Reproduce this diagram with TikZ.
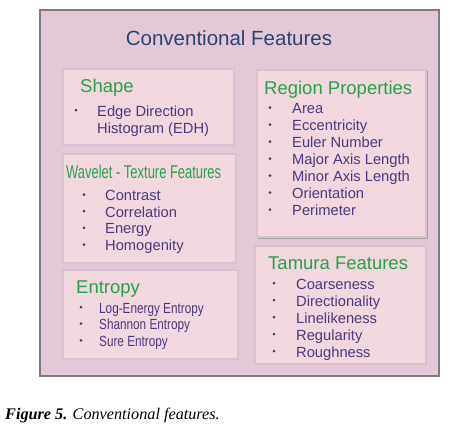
\documentclass[tikz,border=0pt]{standalone}
\usepackage{fontspec}
\usepackage{graphicx}
\setmainfont{Liberation Serif}
\newfontfamily\arialf{Liberation Sans}
\definecolor{outerfill}{HTML}{E3C8D8}
\definecolor{outerline}{HTML}{7E7A7E}
\definecolor{innerfill}{HTML}{F0D8DE}
\definecolor{innerline}{HTML}{DDC0CE}
\definecolor{titleblue}{HTML}{2B4470}
\definecolor{headgreen}{HTML}{2AA04F}
\definecolor{itemtext}{HTML}{4A3A80}
\tikzset{
  outerbox/.style={fill=outerfill,draw=outerline,line width=1.4pt},
  innerbox/.style={fill=innerfill,draw=innerline,line width=1.5pt},
  head/.style={anchor=base west,inner sep=0pt,text=headgreen,font=\arialf\fontsize{18.5}{20}\selectfont},
  item/.style={anchor=base west,inner sep=0pt,text=itemtext,font=\arialf\fontsize{14.7}{17}\selectfont},
  bul/.style={circle,fill=itemtext,inner sep=0pt,minimum size=3pt},
}
\begin{document}
\begin{tikzpicture}[x=1pt,y=-1pt]
\useasboundingbox (0,0) rectangle (453,429);
% outer box
\path[outerbox] (40,10) rectangle (439,376);
\node[anchor=base,inner sep=0pt,text=titleblue,font=\arialf\fontsize{20.5}{22}\selectfont] (title) at (229,45) {Conventional Features};
% inner boxes
\path[innerbox] (63,69) rectangle (234,145);
\path[draw=gray!70,line width=1.2pt] (258,238) -- (427,238) -- (427,71);
\path[innerbox] (257,70) rectangle (426,237);
\path[innerbox] (63,154) rectangle (236,263);
\path[innerbox] (255,246) rectangle (426,364);
\path[innerbox] (63,270) rectangle (238,359);
% Shape
\node[head] (shapeh) at (80,92) {Shape};
\node[bul] (sb1) at (76,110) {};
\node[item] (s1) at (97,116) {Edge Direction};
\node[item] (s2) at (97,133) {Histogram (EDH)};
% Region properties
\node[head] (regh) at (264,94) {Region Properties};
\foreach \t [count=\i from 0] in {Area,Eccentricity,Euler Number,Major Axis Length,Minor Axis Length,Orientation,Perimeter}{
  \node[bul] (rb\i) at (270,{107.5+17*\i}) {};
  \node[item] (r\i) at (292,{113.5+17*\i}) {\t};
}
% Wavelet
\node[head] (wavh) at (66,178) {\scalebox{0.7}[1]{Wavelet - Texture Features}};
\foreach \t [count=\i from 0] in {Contrast,Correlation,Energy,Homogenity}{
  \node[bul] (wb\i) at (84,{194.5+16.7*\i}) {};
  \node[item] (w\i) at (105,{200.5+16.7*\i}) {\t};
}
% Tamura
\node[head] (tamh) at (268,269) {Tamura Features};
\foreach \t [count=\i from 0] in {Coarseness,Directionality,Linelikeness,Regularity,Roughness}{
  \node[bul] (tb\i) at (274,{283+17*\i}) {};
  \node[item] (t\i) at (296,{289+17*\i}) {\t};
}
% Entropy
\node[head] (enth) at (76,293) {Entropy};
\foreach \t [count=\i from 0] in {Log-Energy Entropy,Shannon Entropy,Sure Entropy}{
  \node[bul] (eb\i) at (81,{307+16.7*\i}) {};
  \node[item] (e\i) at (99,{313+16.7*\i}) {\scalebox{0.8}[1]{\t}};
}
% caption
\node[anchor=base west,inner sep=0pt,font=\fontsize{16.2}{18}\selectfont] (cap) at (5,419) {\textbf{\textit{Figure 5.}} \textit{Conventional features.}};
\end{tikzpicture}
\end{document}
